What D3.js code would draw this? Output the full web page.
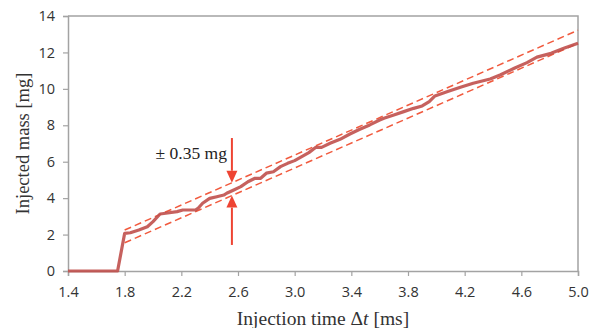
<!DOCTYPE html>
<html>
<head>
<meta charset="utf-8">
<script src="https://cdn.jsdelivr.net/npm/d3@7"></script>
<style>
  body { margin: 0; background: #fff; }
  svg { display: block; }
</style>
</head>
<body>
<div id="chart"></div>
<script>
// measured injected mass vs injection time
const timeMs = [1.4, 1.75, 1.8, 1.84, 1.9, 1.96, 2.0, 2.05, 2.09, 2.17, 2.21, 2.3, 2.32, 2.35, 2.4, 2.45, 2.5, 2.52,
  2.57, 2.62, 2.67, 2.72, 2.76, 2.8, 2.85, 2.9, 2.95, 3.0, 3.05, 3.1, 3.15, 3.19, 3.25, 3.32, 3.39, 3.46,
  3.53, 3.6, 3.63, 3.7, 3.77, 3.84, 3.9, 3.95, 3.99, 4.08, 4.17, 4.26, 4.38, 4.45, 4.55, 4.64, 4.71, 4.81, 4.9, 5.0];
const massMg = [0, 0, 2.07, 2.1, 2.25, 2.43, 2.71, 3.13, 3.17, 3.26, 3.35, 3.35, 3.46, 3.72, 3.99, 4.08, 4.17, 4.27,
  4.45, 4.63, 4.9, 5.09, 5.09, 5.37, 5.45, 5.73, 5.91, 6.06, 6.28, 6.5, 6.79, 6.79, 7.01, 7.23, 7.52, 7.78,
  8.02, 8.29, 8.39, 8.57, 8.75, 8.93, 9.06, 9.3, 9.61, 9.85, 10.09, 10.31, 10.54, 10.76, 11.13, 11.44, 11.74, 11.95, 12.23, 12.5];

// tolerance band (dashed)
const bandTime = [1.8, 5.0];
const bandUpper = [2.25, 13.22];
const bandLower = [1.55, 12.5];

// arrow annotation
const arrowTime = 2.557;
const arrowTop = 7.3;
const arrowBottom = 1.43;
const annotation = "± 0.35 mg";

const xTicks = [1.4, 1.8, 2.2, 2.6, 3.0, 3.4, 3.8, 4.2, 4.6, 5.0];
const yTicks = [0, 2, 4, 6, 8, 10, 12, 14];

const width = 595, height = 328;
const margin = { top: 16, right: 17, bottom: 57, left: 68 };

const svg = d3.select('#chart').append('svg')
  .attr('width', width)
  .attr('height', height);

const x = d3.scaleLinear().domain([1.4, 5.0]).range([margin.left, width - margin.right]);
const y = d3.scaleLinear().domain([0, 14]).range([height - margin.bottom, margin.top]);

const axisColor = '#a3a3a3';
const sans = '"Open Sans", sans-serif';
const serif = '"Liberation Serif", "DejaVu Serif", serif';

// frame top + right
svg.append('path')
  .attr('d', `M${x(1.4)},${y(14)}H${x(5.0)}V${y(0)}`)
  .attr('fill', 'none')
  .attr('stroke', axisColor)
  .attr('stroke-width', 1.5);

const xAxis = svg.append('g')
  .attr('transform', `translate(0,${y(0)})`)
  .call(d3.axisBottom(x).tickValues(xTicks).tickSize(5).tickPadding(11).tickFormat(d3.format('.1f')));

const yAxis = svg.append('g')
  .attr('transform', `translate(${x(1.4)},0)`)
  .call(d3.axisLeft(y).tickValues(yTicks).tickSize(5).tickPadding(8).tickFormat(d3.format('d')));

[xAxis, yAxis].forEach(g => {
  g.select('.domain').attr('stroke', axisColor).attr('stroke-width', 1.5);
  g.selectAll('.tick line').attr('stroke', axisColor).attr('stroke-width', 1.2);
  g.selectAll('.tick text')
    .attr('fill', '#333')
    .style('font-family', sans)
    .style('font-size', '14.5px');
});

// dashed band
const bandLine = d3.line().x(d => x(d[0])).y(d => y(d[1]));
[bandUpper, bandLower].forEach(band => {
  svg.append('path')
    .datum(bandTime.map((t, i) => [t, band[i]]))
    .attr('d', bandLine)
    .attr('fill', 'none')
    .attr('stroke', '#f15a3e')
    .attr('stroke-width', 1.5)
    .attr('stroke-dasharray', '7,4');
});

// measured curve
svg.append('path')
  .datum(timeMs.map((t, i) => [t, massMg[i]]))
  .attr('d', d3.line().x(d => x(d[0])).y(d => y(d[1])))
  .attr('fill', 'none')
  .attr('stroke', '#c0504d')
  .attr('stroke-width', 3.2)
  .attr('stroke-opacity', 0.9)
  .attr('stroke-linejoin', 'round');

// arrows pointing at the band
const bandAt = (band, t) => band[0] + (band[1] - band[0]) * (t - bandTime[0]) / (bandTime[1] - bandTime[0]);
const arrowColor = '#ee4433';
function arrow(fromVal, toVal) {
  const x0 = x(arrowTime), y0 = y(fromVal), y1 = y(toVal);
  const dir = Math.sign(y1 - y0);
  const headLen = 12, headW = 5.5;
  svg.append('line')
    .attr('x1', x0).attr('y1', y0)
    .attr('x2', x0).attr('y2', y1 - dir * headLen)
    .attr('stroke', arrowColor)
    .attr('stroke-width', 2);
  svg.append('path')
    .attr('d', `M${x0},${y1}L${x0 - headW},${y1 - dir * headLen}L${x0 + headW},${y1 - dir * headLen}Z`)
    .attr('fill', arrowColor);
}
arrow(arrowTop, bandAt(bandUpper, arrowTime));
arrow(arrowBottom, bandAt(bandLower, arrowTime));

svg.append('text')
  .attr('x', x(arrowTime) - 5)
  .attr('y', 159)
  .attr('text-anchor', 'end')
  .style('font-family', serif)
  .style('font-size', '17.5px')
  .attr('fill', '#222')
  .text(annotation);

// axis titles
const xTitle = svg.append('text')
  .attr('x', (x(1.4) + x(5.0)) / 2)
  .attr('y', 325)
  .attr('text-anchor', 'middle')
  .style('font-family', serif)
  .style('font-size', '19.5px')
  .attr('fill', '#333');
xTitle.append('tspan').text('Injection time Δ');
xTitle.append('tspan').style('font-style', 'italic').text('t');
xTitle.append('tspan').text(' [ms]');

svg.append('text')
  .attr('transform', `translate(29,${(y(0) + y(14)) / 2}) rotate(-90)`)
  .attr('text-anchor', 'middle')
  .style('font-family', serif)
  .style('font-size', '18.5px')
  .attr('fill', '#333')
  .text('Injected mass [mg]');
</script>
</body>
</html>
